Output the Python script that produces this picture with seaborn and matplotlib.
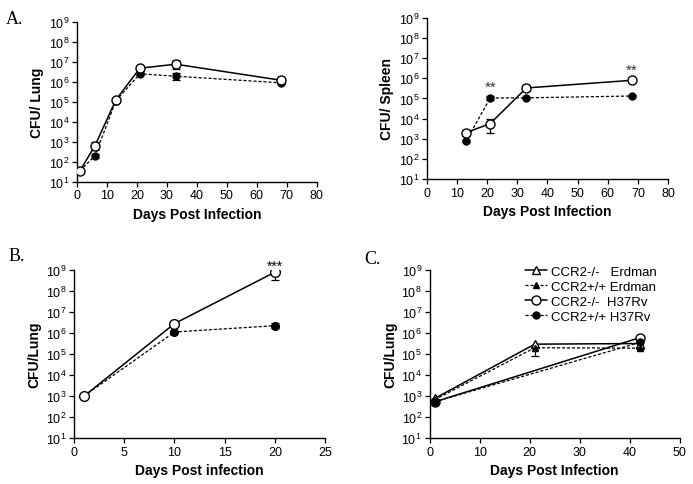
import numpy as np
import matplotlib
matplotlib.use('Agg')
import matplotlib.pyplot as plt
import matplotlib.ticker as mticker
import seaborn as sns

# ---- data (log10 CFU) ----
# Panel A, lung
lung_days = [1, 6, 13, 21, 33, 68]
lung_ko = [1.55, 2.8, 5.1, 6.68, 6.88, 6.08]
lung_ko_err = [0.0, 0.2, 0.0, 0.12, 0.22, 0.1]
lung_wt = [1.55, 2.3, 5.05, 6.4, 6.28, 5.95]
lung_wt_err = [0.0, 0.1, 0.0, 0.08, 0.18, 0.08]

# Panel A, spleen
spleen_days = [13, 21, 33, 68]
spleen_ko = [3.3, 3.75, 5.52, 5.9]
spleen_ko_lo = [0.15, 0.45, 0.15, 0.05]
spleen_ko_hi = [0.15, 0.25, 0.15, 0.05]
spleen_wt = [2.88, 5.02, 5.03, 5.12]
spleen_wt_err = [0.05, 0.12, 0.05, 0.03]
spleen_stars_days = [21, 68]
spleen_stars_y = [5.6, 6.4]

# Panel B
b_days = [1, 10, 20]
b_ko = [3.0, 6.45, 8.9]
b_ko_lo = [0.0, 0.05, 0.35]
b_ko_hi = [0.0, 0.05, 0.15]
b_wt = [3.0, 6.05, 6.35]
b_wt_err = [0.0, 0.05, 0.12]

# Panel C
c_tri_days = [1, 21, 42]
c_erd_ko = [2.88, 5.47, 5.5]
c_erd_wt = [2.82, 5.3, 5.28]
c_erd_wt_lo = [0.0, 0.4, 0.05]
c_circ_days = [1, 42]
c_h37_ko = [2.72, 5.78]
c_h37_wt = [2.72, 5.55]
legend_labels = ['CCR2-/-   Erdman', 'CCR2+/+ Erdman', 'CCR2-/-  H37Rv', 'CCR2+/+ H37Rv']

sns.set_style('ticks')
plt.rcParams['font.family'] = ['Liberation Sans', 'DejaVu Sans']
plt.rcParams['mathtext.default'] = 'regular'
plt.rcParams['text.color'] = 'black'
plt.rcParams['axes.labelcolor'] = 'black'
plt.rcParams['xtick.color'] = 'black'
plt.rcParams['ytick.color'] = 'black'

fig = plt.figure(figsize=(6.93, 4.85), dpi=100)
ax_a = fig.add_axes([0.111, 0.623, 0.346, 0.330])
ax_s = fig.add_axes([0.616, 0.629, 0.348, 0.332])
ax_b = fig.add_axes([0.107, 0.095, 0.362, 0.346])
ax_c = fig.add_axes([0.620, 0.095, 0.361, 0.346])

SOLID = dict(color='black', linewidth=1.1, linestyle='-')
DASH = dict(color='black', linewidth=0.9, linestyle=(0, (2.5, 1.5)))


def series(ax, x, logy, style, marker, face, ms, label=None):
    sns.lineplot(x=x, y=10 ** np.array(logy), ax=ax, marker=marker, markersize=ms,
                 markerfacecolor=face, markeredgecolor='black', markeredgewidth=1.0,
                 label=label, legend=False, zorder=3, **style)


def errs(ax, x, logy, lo, hi):
    y = 10 ** np.array(logy)
    lo_v = y - 10 ** (np.array(logy) - np.array(lo))
    hi_v = 10 ** (np.array(logy) + np.array(hi)) - y
    ax.errorbar(x, y, yerr=[lo_v, hi_v], fmt='none', ecolor='black',
                elinewidth=0.9, capsize=3, capthick=0.9, zorder=2)


def style_axes(ax, xmax, xstep, xlabel, ylabel):
    ax.set_yscale('log')
    ax.set_ylim(10, 1e9)
    ax.yaxis.set_major_locator(mticker.LogLocator(base=10, numticks=12))
    ax.yaxis.set_minor_locator(mticker.NullLocator())
    ax.yaxis.set_major_formatter(mticker.FuncFormatter(
        lambda v, p: '$10^{%d}$' % round(np.log10(v))))
    ax.set_xlim(0, xmax)
    ax.set_xticks(np.arange(0, xmax + 1, xstep))
    ax.tick_params(axis='both', labelsize=9, length=3.5, width=0.9, color='black', pad=2)
    for s in ['left', 'bottom']:
        ax.spines[s].set_linewidth(1.0)
        ax.spines[s].set_color('black')
    sns.despine(ax=ax)
    ax.set_xlabel(xlabel, fontsize=10, fontweight='bold', labelpad=4)
    ax.set_ylabel(ylabel, fontsize=10, fontweight='bold', labelpad=3)


# Panel A lung
errs(ax_a, lung_days, lung_ko, lung_ko_err, lung_ko_err)
errs(ax_a, lung_days, lung_wt, lung_wt_err, lung_wt_err)
series(ax_a, lung_days, lung_wt, DASH, 'o', 'black', 5)
series(ax_a, lung_days, lung_ko, SOLID, 'o', 'white', 6.5)
style_axes(ax_a, 80, 10, 'Days Post Infection', 'CFU/ Lung')

# Panel A spleen
errs(ax_s, spleen_days, spleen_ko, spleen_ko_lo, spleen_ko_hi)
errs(ax_s, spleen_days, spleen_wt, spleen_wt_err, spleen_wt_err)
series(ax_s, spleen_days, spleen_wt, DASH, 'o', 'black', 5)
series(ax_s, spleen_days, spleen_ko, SOLID, 'o', 'white', 6.5)
for d, y in zip(spleen_stars_days, spleen_stars_y):
    ax_s.text(d, 10 ** y, '**', ha='center', va='center', fontsize=11, color='#333333')
style_axes(ax_s, 80, 10, 'Days Post Infection', 'CFU/ Spleen')

# Panel B
errs(ax_b, b_days, b_ko, b_ko_lo, b_ko_hi)
errs(ax_b, b_days, b_wt, b_wt_err, b_wt_err)
series(ax_b, b_days, b_wt, DASH, 'o', 'black', 5.5)
series(ax_b, b_days, b_ko, SOLID, 'o', 'white', 7)
ax_b.text(20, 10 ** 9.2, '***', ha='center', va='center', fontsize=10, clip_on=False)
style_axes(ax_b, 25, 5, 'Days Post infection', 'CFU/Lung')

# Panel C
errs(ax_c, c_tri_days, c_erd_wt, c_erd_wt_lo, [0, 0, 0])
series(ax_c, c_tri_days, c_erd_ko, SOLID, '^', 'white', 6, legend_labels[0])
series(ax_c, c_tri_days, c_erd_wt, DASH, '^', 'black', 5, legend_labels[1])
series(ax_c, c_circ_days, c_h37_ko, SOLID, 'o', 'white', 6.5, legend_labels[2])
series(ax_c, c_circ_days, c_h37_wt, DASH, 'o', 'black', 5, legend_labels[3])
style_axes(ax_c, 50, 10, 'Days Post Infection', 'CFU/Lung')
ax_c.legend(loc='upper right', bbox_to_anchor=(0.93, 1.06), frameon=False, fontsize=9.5,
            handlelength=1.7, handletextpad=0.3, labelspacing=0.22, borderaxespad=0)

# panel letters
for x, y, t in [(0.008, 0.95, 'A.'), (0.012, 0.462, 'B.'), (0.525, 0.455, 'C.')]:
    fig.text(x, y, t, fontsize=13, family='Liberation Serif')

fig.savefig('out.png', dpi=100)
